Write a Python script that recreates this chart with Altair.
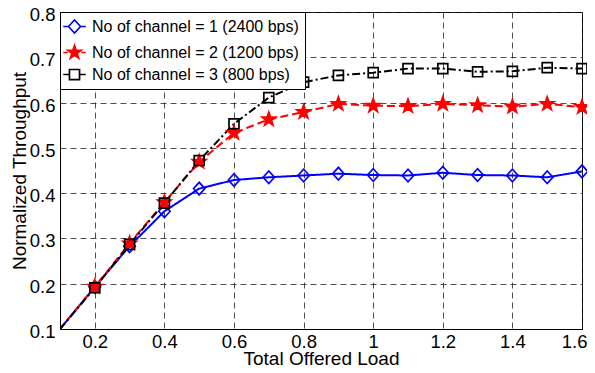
import math
import altair as alt
import pandas as pd

# ---------------- data ----------------
load = [0.1, 0.2, 0.3, 0.4, 0.5, 0.6, 0.7, 0.8, 0.9, 1.0, 1.1, 1.2, 1.3, 1.4, 1.5, 1.6]
ch1 = [0.1, 0.193, 0.283, 0.360, 0.410, 0.429, 0.435, 0.439, 0.443, 0.440, 0.439, 0.445, 0.440, 0.439, 0.435, 0.448]
ch2 = [0.1, 0.193, 0.289, 0.380, 0.469, 0.533, 0.563, 0.579, 0.597, 0.593, 0.592, 0.597, 0.594, 0.591, 0.597, 0.590]
ch3 = [0.1, 0.191, 0.287, 0.378, 0.472, 0.553, 0.611, 0.645, 0.660, 0.666, 0.675, 0.675, 0.668, 0.669, 0.677, 0.675]
series_names = [
    "No of channel = 1 (2400 bps)",
    "No of channel = 2 (1200 bps)",
    "No of channel = 3 (800 bps)",
]
x_ticks = [0.2, 0.4, 0.6, 0.8, 1.0, 1.2, 1.4, 1.6]
y_ticks = [0.1, 0.2, 0.3, 0.4, 0.5, 0.6, 0.7, 0.8]

rows = []
for name, vals in zip(series_names, [ch1, ch2, ch3]):
    for i, (xv, yv) in enumerate(zip(load, vals)):
        rows.append({"load": xv, "thr": yv, "series": name, "order": i})
df = pd.DataFrame(rows)

# ---------------- styles ----------------
colors = ["#0000ff", "#ff0000", "#000000"]
dashes = [[1, 0], [8, 4], [8, 3, 2, 3]]
fills = ["transparent", "#ff0000", "transparent"]


def star(R):
    pts = []
    for k in range(10):
        r = R if k % 2 == 0 else R * 0.40
        a = math.radians(-90 + 36 * k)
        pts.append((r * math.cos(a), r * math.sin(a)))
    return "M" + "L".join(f"{px:.3f},{py:.3f}" for px, py in pts) + "Z"


def diamond(w, h):
    return f"M{-w},0L0,{-h}L{w},0L0,{h}Z"


def square(s):
    return f"M{-s},{-s}H{s}V{s}H{-s}Z"


marker_paths = [diamond(0.95, 1.05), star(1.2), square(0.83)]
legend_paths = [
    "M-1.5,0H-0.8M0.8,0H1.5" + diamond(0.8, 0.87),
    "M-1.5,0H-0.9M0.9,0H1.5" + star(0.95),
    "M-1.5,0H-0.67M0.67,0H1.5" + square(0.67),
]

xscale = alt.Scale(domain=[0.1, 1.6], nice=False, zero=False)
yscale = alt.Scale(domain=[0.1, 0.8], nice=False, zero=False)

xenc = alt.X("load:Q", scale=xscale,
             axis=alt.Axis(values=x_ticks, format="~g", title="Total Offered Load",
                           titlePadding=-1, labelPadding=3,
                           labelAlign={"condition": {"test": "datum.value >= 1.59", "value": "right"},
                                       "value": "center"},
                           labelOffset={"condition": {"test": "datum.value >= 1.59", "value": 5},
                                        "value": 0}))
yenc = alt.Y("thr:Q", scale=yscale,
             axis=alt.Axis(values=y_ticks, format=".1f", title="Normalized Throughput",
                           titlePadding=0, labelPadding=5, labelOffset=2.5))

base = alt.Chart(df)

lines = base.mark_line(strokeWidth=2, clip=True).encode(
    x=xenc, y=yenc, order="order:Q",
    stroke=alt.Stroke("series:N", scale=alt.Scale(domain=series_names, range=colors), legend=None),
    strokeDash=alt.StrokeDash("series:N", scale=alt.Scale(domain=series_names, range=dashes), legend=None),
)

points = base.transform_filter("datum.load > 0.15").mark_point(
    filled=True, opacity=1, size=144, strokeWidth=1.7
).encode(
    x=xenc, y=yenc,
    shape=alt.Shape("series:N", scale=alt.Scale(domain=series_names, range=marker_paths), legend=None),
    stroke=alt.Stroke("series:N", scale=alt.Scale(domain=series_names, range=colors), legend=None),
    fill=alt.Fill("series:N", scale=alt.Scale(domain=series_names, range=fills), legend=None),
)

leg = alt.Legend(title=None, orient="top-left", offset=0, labelLimit=0)
legend_layer = base.transform_filter("false").mark_point(
    filled=True, opacity=1, size=225, strokeWidth=1.7
).encode(
    x=xenc, y=yenc,
    shape=alt.Shape("series:N", scale=alt.Scale(domain=series_names, range=legend_paths), legend=leg),
    stroke=alt.Stroke("series:N", scale=alt.Scale(domain=series_names, range=colors), legend=leg),
    fill=alt.Fill("series:N", scale=alt.Scale(domain=series_names, range=fills), legend=leg),
)

chart = alt.layer(lines, points, legend_layer).resolve_scale(
    shape="independent", fill="independent", stroke="independent"
).properties(
    width=522, height=317,
    padding={"left": 52, "top": 4, "right": 5, "bottom": 40},
    autosize=alt.AutoSizeParams(type="none"),
    background="white",
).configure_view(
    stroke="#000", strokeWidth=1
).configure_axis(
    labelFont="Liberation Sans", titleFont="Liberation Sans",
    labelFontSize=18.5, titleFontSize=19, titleFontWeight="normal",
    labelColor="#000", titleColor="#000",
    domainColor="#000", domainWidth=1,
    ticks=False,
    grid=True, gridColor="#222", gridDash=[6, 4], gridWidth=0.8, gridOpacity=1,
    labelFlush=False,
).configure_legend(
    labelFont="Liberation Sans", labelFontSize=16, labelColor="#000",
    strokeColor="#000", fillColor="#fff", padding=6,
    symbolSize=225, symbolStrokeWidth=1.7, labelOffset=9, rowPadding=4,
    cornerRadius=0,
)

chart.save("out.html", embed_options={"renderer": "svg", "actions": False})
